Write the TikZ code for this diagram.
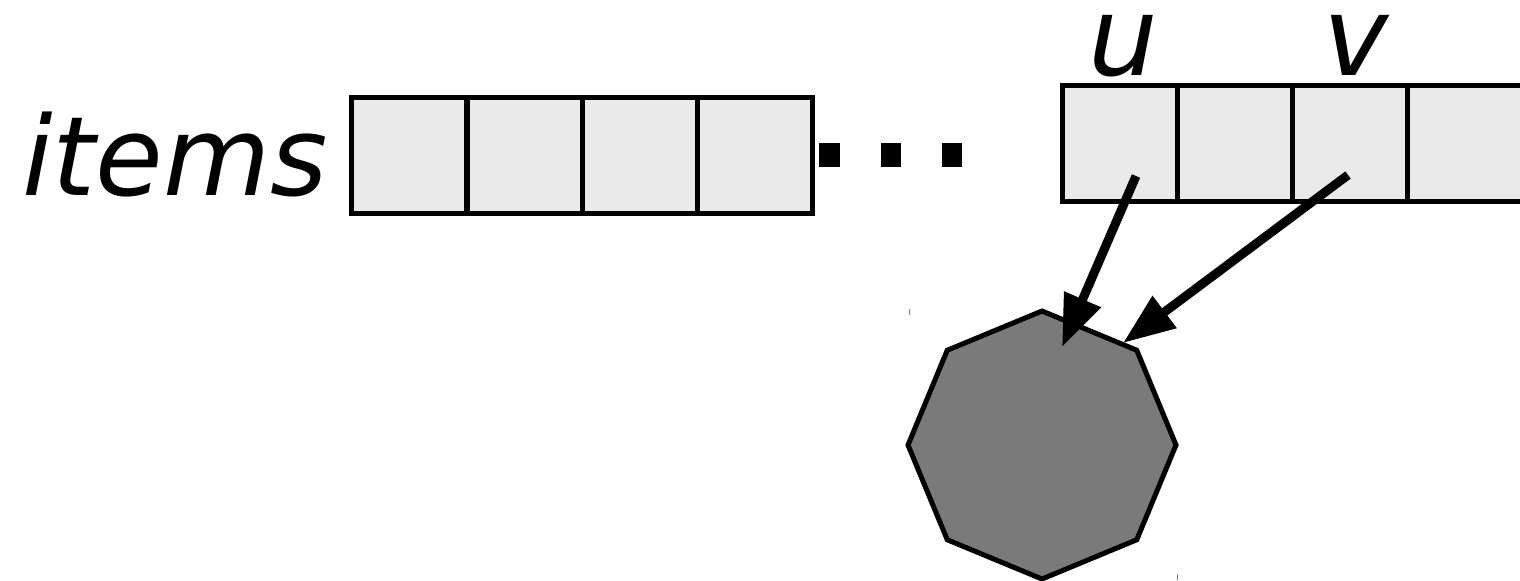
\documentclass[tikz,border=0pt]{standalone}
\usepackage{fontspec}
\setmainfont{DejaVu Sans}
\usetikzlibrary{shapes.geometric,arrows.meta,calc}
\definecolor{cellfill}{HTML}{EAEAEA}
\definecolor{octfill}{HTML}{7A7A7A}
\begin{document}
\begin{tikzpicture}[x=0.5pt,y=-0.5pt,
  cell/.style={draw=black,fill=cellfill,line width=2.5pt,inner sep=0pt,outer sep=0pt,
    minimum width=57.5pt,minimum height=58pt},
  lbl/.style={font=\fontsize{55}{66}\selectfont\itshape,inner sep=0pt,outer sep=0pt},
  ptr/.style={line width=4.5pt,-{Triangle[length=26pt,width=19pt]}},
  dotsq/.style={fill=black},
  tick/.style={draw=gray,line width=0.6pt}]
\useasboundingbox (0,0) rectangle (1520,580);
\begin{scope}
\clip (0,0) rectangle (1520,580);
% label
\node[lbl,anchor=base east] (items) at (328,195) {items};
% left cells
\node[cell] (a1) at (408.5,155) {};
\node[cell] (a2) at (524.5,155) {};
\node[cell] (a3) at (639.5,155) {};
\node[cell] (a4) at (754.5,155) {};
% dots
\fill[dotsq] (819,143) rectangle (840,167);
\fill[dotsq] (881,143) rectangle (901,167);
\fill[dotsq] (942,143) rectangle (962,167);
% right cells
\node[cell] (b1) at (1119.5,143) {};
\node[cell] (b2) at (1234.5,143) {};
\node[cell] (b3) at (1349.5,143) {};
\node[cell] (b4) at (1464.5,143) {};
% labels u, v
\node[lbl,anchor=base] (u) at (1123,75) {u};
\node[lbl,anchor=base] (v) at (1356,75) {v};
% octagon
\node[regular polygon,regular polygon sides=8,shape border rotate=22.5,
  draw=black,fill=octfill,line width=2.5pt,inner sep=0pt,outer sep=0pt,
  minimum size=134pt] (oct) at (1042,445) {};
% pointer coordinates
\coordinate (us) at ($(b1.center)+(16.5,33)$);
\coordinate (vs) at ($(b3.center)+(-1.5,32)$);
\coordinate (ut) at ($(oct.center)+(20,-98)$);
\coordinate (vt) at ($(oct.center)+(81,-102)$);
\draw[ptr] (us) -- (ut);
\draw[ptr] (vs) -- (vt);
% tiny ticks
\draw[tick] (909.5,309) -- (909.5,315);
\draw[tick] (1177.5,574) -- (1177.5,580);
\end{scope}
\end{tikzpicture}
\end{document}
